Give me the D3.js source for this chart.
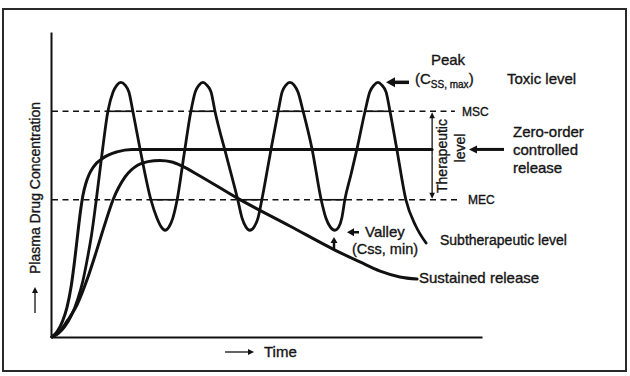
<!DOCTYPE html>
<html><head><meta charset="utf-8">
<script src="https://cdn.jsdelivr.net/npm/d3@7/dist/d3.min.js"></script>
<style>body{margin:0;background:#fff}text{font-family:"Liberation Sans",Arial,sans-serif;fill:#151515;stroke:#151515;stroke-width:0.35px}</style>
</head><body><svg id="c" width="630" height="376"></svg>
<script>
// ---- data (time units 0-100, concentration units 0-100) ----
const intermittent = [[0,0],[1.5,1.2],[3,3.5],[4.5,7],[6,12.5],[7.2,18.5],[8.2,25.5],[9.2,33.5],[10.3,45],[11.6,59.7],[13,74],[14.2,80.3],[15.1,82.6],[16,83.5],[17,82.6],[17.9,80.3],[18.8,74],[20.5,61.5],[23,45],[24.4,39],[25.4,36.1],[26.3,35],[27.2,36.1],[28.1,39],[29.1,45],[30.7,59.7],[32.3,74],[33.3,80.3],[34.2,82.6],[35.1,83.5],[36,82.6],[37,80.3],[37.9,74],[40.5,59.7],[43.2,45],[44.2,39],[45.1,36.1],[46,35],[47,36.1],[47.9,39],[48.8,45],[50.7,59.7],[52.6,74],[53.5,80.3],[54.4,82.6],[55.3,83.5],[56.3,82.6],[57.2,80.3],[58.4,74],[60.5,61.5],[62.6,45],[63.7,39],[64.7,36.1],[65.8,35],[66.7,36.1],[67.4,39],[68.1,45],[69.5,53.1],[70.9,61.5],[72.8,74],[73.9,80.3],[74.9,82.6],[75.8,83.5],[76.7,82.6],[77.7,80.3],[78.6,74],[80.2,61.5],[82.3,45],[84.6,36.4],[87,30.8]];
const zeroOrder = [[0,0],[1.2,1.8],[2.4,5],[3.5,9.8],[4.5,17],[5.3,25.5],[6,34],[6.6,41],[7.2,46.5],[7.9,50.5],[8.6,53.2],[9.6,55.7],[11.9,58.7],[15.1,60.7],[18.6,61.5],[88.4,61.5]];
const sustained = [[0,0],[1.9,2],[3.7,5.6],[5.8,10.5],[8.2,19],[10.3,28],[12.3,37],[14.2,45],[17,52.5],[20,56.4],[22.3,57.5],[25.1,57.9],[27.9,57.4],[30.2,56.1],[34.4,52.8],[43,45.6],[55.3,36.4],[65.8,28.5],[71.6,24.6],[76.3,21.6],[80.9,19.7],[84.9,19]];
const levelLabels = ["MSC","MEC"];
const levelConc = [74,45];
const peakConc = 83.5, valleyConc = 35;

// ---- drawing ----
const svg = d3.select("#c");
const x = d3.scaleLinear().domain([0,100]).range([52,482]);
const y = d3.scaleLinear().domain([0,100]).range([337,32]);
const ink = "#111";

svg.append("rect").attr("x",3).attr("y",9).attr("width",623).attr("height",362)
  .attr("fill","none").attr("stroke","#2a2a2a").attr("stroke-width",2);

const xAx = svg.append("g").attr("transform","translate(0,337)").call(d3.axisBottom(x).tickValues([]).tickSizeOuter(0));
const yAx = svg.append("g").attr("transform","translate(51,0)").call(d3.axisLeft(y).tickValues([]).tickSizeOuter(0));
[xAx,yAx].forEach(g=>g.select(".domain").attr("stroke",ink).attr("stroke-width",2));

// level lines (dashed) and solid parts inside peaks/valleys
const levelEnd = [93.7, 94.9];
levelConc.forEach((L,i)=>{
  svg.append("line").attr("x1",x(0)).attr("x2",x(levelEnd[i])).attr("y1",y(L)).attr("y2",y(L))
    .attr("stroke",ink).attr("stroke-width",1.4).attr("stroke-dasharray","6,4.5");
  const cr=[];
  for(let k=1;k<intermittent.length;k++){
    const [t1,c1]=intermittent[k-1],[t2,c2]=intermittent[k];
    if((c1-L)*(c2-L)<0 || (c2===L && c1!==L)){
      const t=t1+(L-c1)*(t2-t1)/(c2-c1);
      cr.push({t,up:c2>c1});
    }
  }
  for(let k=0;k<cr.length-1;k++){
    const a=cr[k],b=cr[k+1];
    if((i===0 && a.up && !b.up)||(i===1 && !a.up && b.up)){
      svg.append("line").attr("x1",x(a.t)).attr("x2",x(b.t)).attr("y1",y(L)).attr("y2",y(L))
        .attr("stroke",ink).attr("stroke-width",1.6);
    }
  }
  svg.append("text").attr("x",x(levelEnd[i])+ (i===0?7:8)).attr("y",y(L)).attr("dy","0.36em")
    .attr("font-size",12).text(levelLabels[i]);
});

const line = d3.line().x(d=>x(d[0])).y(d=>y(d[1])).curve(d3.curveMonotoneX);
[[zeroOrder,3],[sustained,3],[intermittent,2.8]].forEach(([d,w])=>{
  svg.append("path").attr("d",line(d)).attr("fill","none").attr("stroke",ink)
    .attr("stroke-width",w).attr("stroke-linejoin","round").attr("stroke-linecap","round");
});

function arrow(x1,y1,x2,y2,w,hl,hw){ // from (x1,y1) to tip (x2,y2)
  const dx=x2-x1, dy=y2-y1, L=Math.hypot(dx,dy), ux=dx/L, uy=dy/L;
  const bx=x2-ux*hl, by=y2-uy*hl;
  svg.append("line").attr("x1",x1).attr("y1",y1).attr("x2",bx+ux).attr("y2",by+uy)
    .attr("stroke",ink).attr("stroke-width",w);
  svg.append("path").attr("d",`M${x2},${y2}L${bx-uy*hw},${by+ux*hw}L${bx+uy*hw},${by-ux*hw}Z`).attr("fill",ink);
}

// therapeutic bracket
const bx = x(88.4);
arrow(bx,(y(74)+y(45))/2,bx,y(74)+1,1.3,6,2.8);
arrow(bx,(y(74)+y(45))/2,bx,y(45)-1,1.3,6,2.8);

// annotation arrows
arrow(409,y(peakConc),386,y(peakConc),3.5,9,5);
arrow(359,y(valleyConc)+2,347,y(valleyConc)+2,2.5,7,4);
arrow(334,249,334,237,2.5,6,3.5);
arrow(504,y(61.5),469,y(61.5),3,8,4);
arrow(35,313,35,287,1.3,6,3);
arrow(225,352,254,352,1.3,6,3);

function txt(s,x0,y0,size,anchor){
  return svg.append("text").attr("x",x0).attr("y",y0).attr("dy","0.36em")
    .attr("font-size",size).attr("text-anchor",anchor||"start").text(s);
}
txt("Peak",448,60,15,"middle");
const cs = svg.append("text").attr("x",415).attr("y",79).attr("dy","0.36em").attr("font-size",15);
cs.append("tspan").text("(C");
cs.append("tspan").attr("font-size",10).attr("dy",4).text("SS, max");
cs.append("tspan").attr("dy",-4).text(")");
txt("Toxic level",507,79,15);
txt("Zero-order",513,132,15);
txt("controlled",513,150,15);
txt("release",513,168,15);
txt("Valley",365,232,15);
txt("(Css, min)",352,249,14.5);
txt("Subtherapeutic level",440,240,14);
txt("Sustained release",419,278,15);
txt("Time",264,352,15);

svg.append("text").attr("transform","translate(442,156) rotate(-90)").attr("dy","0.36em")
  .attr("font-size",14).attr("text-anchor","middle").text("Therapeutic");
svg.append("text").attr("transform","translate(460,148) rotate(-90)").attr("dy","0.36em")
  .attr("font-size",14).attr("text-anchor","middle").text("level");
svg.append("text").attr("transform","translate(35,188) rotate(-90)").attr("dy","0.36em")
  .attr("font-size",14).attr("text-anchor","middle").text("Plasma Drug Concentration");
</script></body></html>
